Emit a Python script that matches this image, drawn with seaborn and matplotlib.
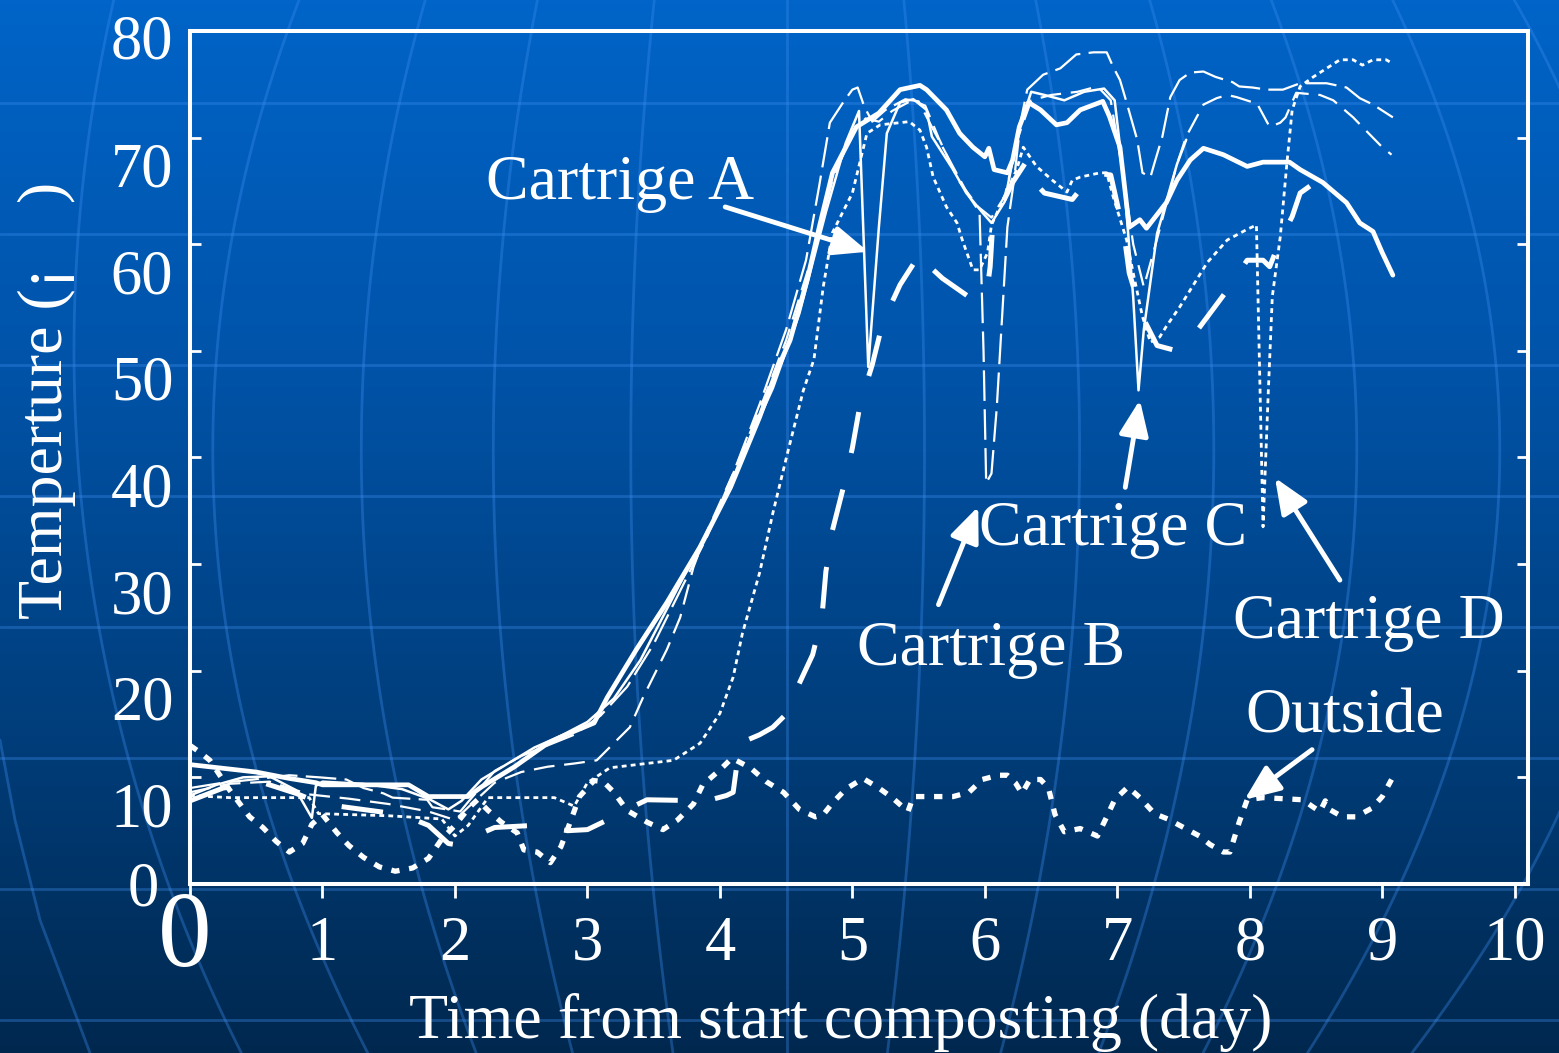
import numpy as np
import matplotlib
matplotlib.use("Agg")
import matplotlib.pyplot as plt
import matplotlib.transforms as mtransforms
from matplotlib.colors import LinearSegmentedColormap
import seaborn as sns

# ---- data (day, temperature) ----
# thin solid line (Cartrige A)
a_day = [0.0, 0.2, 0.4, 0.6, 0.8, 0.92, 0.95, 1.0, 1.3, 1.6, 1.8, 1.95, 2.05, 2.2, 2.4,
         2.6, 2.8, 3.0, 3.2, 3.4, 3.6, 3.8, 4.0, 4.2, 4.4, 4.6, 4.8, 4.95, 5.05, 5.12,
         5.2, 5.26, 5.36, 5.46, 5.56, 5.6, 5.76, 5.86, 5.98, 6.05, 6.15, 6.25, 6.35, 6.45, 6.6,
         6.75, 6.9, 6.98, 7.05, 7.12, 7.16, 7.2, 7.3, 7.45, 7.52]
a_temp = [8.3, 9.3, 10.0, 10.1, 8.8, 6.2, 9.2, 9.6, 9.4, 8.9, 8.0, 7.0, 7.8, 9.8, 11.3,
          12.8, 13.9, 15.2, 17.4, 21.0, 25.8, 30.6, 35.2, 41.0, 46.5, 53.5, 63.0, 69.5, 72.5, 48.5,
          61.6, 70.4, 73.3, 73.6, 72.6, 70.1, 67.0, 64.8, 63.0, 62.0, 64.0, 70.5, 74.3, 74.0, 73.5,
          74.3, 74.6, 73.5, 66.0, 55.0, 46.3, 52.0, 61.0, 67.5, 69.8]

# thin long dash (Cartrige B)
b_day = [0.0, 0.25, 0.48, 0.75, 0.98, 1.18, 1.31, 1.46, 1.53, 1.79, 1.83, 2.04, 2.1, 2.3, 2.5,
         2.7, 2.9, 3.1, 3.3, 3.5, 3.7, 3.9, 4.1, 4.3, 4.5, 4.65, 4.75, 4.83, 4.93, 5.0,
         5.04, 5.09, 5.15, 5.25, 5.4, 5.5, 5.6, 5.75, 5.88, 5.96, 5.99, 6.01, 6.05, 6.09, 6.17,
         6.22, 6.27, 6.32, 6.44, 6.57, 6.69, 6.82, 6.92, 6.97, 7.02, 7.07, 7.15, 7.19, 7.25, 7.28,
         7.34, 7.4, 7.47, 7.55, 7.65, 7.74, 7.87, 7.92, 8.02, 8.13, 8.25, 8.38, 8.58, 8.73, 8.83,
         8.93, 9.08]
b_temp = [9.0, 9.5, 9.8, 10.2, 10.0, 9.8, 9.0, 8.5, 8.1, 7.9, 7.2, 6.8, 7.7, 10.6, 12.0,
          13.0, 14.0, 15.8, 18.5, 22.5, 27.5, 32.5, 38.5, 45.0, 52.0, 58.5, 65.5, 71.4, 73.3, 74.5,
          74.7, 72.9, 71.5, 72.6, 73.6, 73.4, 71.0, 67.5, 64.5, 63.0, 50.0, 37.6, 38.5, 44.7, 61.6,
          66.0, 71.5, 74.5, 75.9, 76.5, 77.8, 78.0, 78.0, 76.6, 75.4, 73.3, 69.8, 66.7, 66.3, 67.6,
          70.1, 73.8, 75.4, 76.1, 76.2, 75.7, 75.2, 74.8, 74.7, 74.5, 74.5, 75.1, 75.1, 74.7, 73.7,
          73.1, 71.9]

# thin medium dash (Cartrige C)
c_day = [0.0, 0.3, 0.6, 0.9, 1.2, 1.5, 1.8, 2.0, 2.1, 2.3, 2.5, 2.7, 2.9, 3.07, 3.32,
         3.42, 3.6, 3.7, 3.8, 3.9, 4.1, 4.3, 4.5, 4.7, 4.85, 5.0, 5.1, 5.2, 5.3, 5.45,
         5.55, 5.65, 5.8, 5.95, 6.05, 6.15, 6.25, 6.35, 6.5, 6.7, 6.85, 6.95, 7.05, 7.12, 7.2,
         7.3, 7.45, 7.52, 7.65, 7.75, 7.83, 7.9, 8.0, 8.05, 8.15, 8.23, 8.27, 8.35, 8.53, 8.63,
         8.78, 8.85, 9.0, 9.07]
c_temp = [8.6, 9.4, 9.6, 8.4, 8.0, 7.5, 6.8, 6.0, 7.2, 9.5, 10.5, 11.0, 11.3, 11.6, 14.7,
          17.5, 22.0, 25.0, 29.7, 33.0, 38.5, 44.5, 51.0, 59.0, 66.0, 70.5, 71.8, 71.5, 72.5, 73.5,
          73.0, 70.0, 66.0, 63.5, 62.5, 64.5, 70.0, 73.5, 74.0, 74.3, 74.8, 73.5, 66.0, 60.0, 56.0,
          60.5, 67.5, 70.1, 73.1, 73.7, 74.0, 73.8, 73.4, 73.3, 71.0, 71.4, 71.9, 74.2, 74.0, 73.5,
          71.9, 71.0, 69.1, 68.4]

# thin dotted (Cartrige D)
d_day = [0.0, 0.3, 0.9, 0.97, 1.5, 1.9, 2.0, 2.1, 2.25, 2.75, 2.9, 3.0, 3.17, 3.65, 3.85,
         4.0, 4.1, 4.17, 4.3, 4.4, 4.51, 4.63, 4.71, 4.78, 4.85, 5.0, 5.11, 5.21, 5.43, 5.51,
         5.56, 5.61, 5.71, 5.79, 5.83, 5.91, 5.96, 6.02, 6.05, 6.09, 6.24, 6.29, 6.39, 6.51, 6.62,
         6.66, 6.72, 6.87, 6.92, 6.97, 7.07, 7.12, 7.19, 7.25, 7.32, 7.37, 7.47, 7.6, 7.68, 7.83,
         7.98, 8.05, 8.1, 8.14, 8.17, 8.23, 8.28, 8.32, 8.38, 8.48, 8.68, 8.78, 8.85, 8.93, 9.03,
         9.07]
d_temp = [8.3, 8.1, 8.1, 6.6, 6.4, 6.1, 4.5, 5.5, 8.1, 8.1, 7.3, 9.5, 10.9, 11.6, 13.2,
          16.0, 19.4, 23.5, 29.2, 34.8, 40.4, 46.3, 49.2, 56.0, 61.1, 64.8, 70.4, 71.2, 71.5, 70.7,
          69.1, 66.3, 63.5, 62.0, 60.4, 57.6, 57.6, 59.2, 61.8, 62.9, 67.0, 69.1, 67.3, 66.0, 64.9,
          66.0, 66.3, 66.7, 66.7, 64.4, 60.4, 57.3, 53.2, 50.8, 51.3, 52.3, 54.1, 56.7, 58.3, 60.4,
          61.4, 61.8, 33.5, 46.3, 55.1, 60.7, 67.6, 72.6, 74.8, 75.7, 77.3, 77.3, 76.8, 77.3, 77.3,
          77.0]

# thick solid
e_day = [0.0, 0.5, 0.75, 0.95, 1.0, 1.65, 1.8, 2.1, 2.2, 2.45, 2.7, 2.8, 3.05, 3.15, 3.37,
         3.6, 3.85, 4.08, 4.3, 4.43, 4.53, 4.66, 4.75, 4.85, 5.03, 5.2, 5.36, 5.51, 5.56, 5.71,
         5.81, 5.91, 6.0, 6.03, 6.07, 6.17, 6.21, 6.26, 6.33, 6.42, 6.54, 6.62, 6.72, 6.89, 6.94,
         7.02, 7.09, 7.17, 7.22, 7.37, 7.45, 7.55, 7.65, 7.8, 7.98, 8.1, 8.3, 8.38, 8.55, 8.73,
         8.83, 8.93, 9.0, 9.08]
e_temp = [11.2, 10.5, 9.9, 9.5, 9.3, 9.3, 8.2, 8.2, 9.1, 11.0, 13.2, 13.8, 15.1, 17.5, 22.0,
          26.4, 31.6, 37.2, 43.8, 48.2, 51.0, 56.7, 61.6, 66.7, 71.0, 72.3, 74.5, 74.9, 74.5, 72.6,
          70.4, 69.1, 68.2, 69.0, 67.0, 66.7, 67.9, 71.0, 73.3, 72.6, 71.2, 71.4, 72.6, 73.4, 72.0,
          69.1, 61.6, 62.3, 61.5, 63.9, 66.0, 67.9, 69.0, 68.4, 67.3, 67.7, 67.7, 67.0, 65.8, 63.9,
          62.0, 61.2, 59.2, 57.1]

# thick long dash
f_day = [0.0, 0.25, 0.55, 0.8, 1.0, 1.3, 1.6, 1.8, 1.95, 2.05, 2.15, 2.3, 2.6, 2.85, 3.0,
         3.15, 3.3, 3.45, 3.9, 4.05, 4.1, 4.15, 4.3, 4.4, 4.53, 4.55, 4.7, 4.77, 4.8, 4.85,
         4.93, 5.0, 5.06, 5.15, 5.23, 5.36, 5.52, 5.61, 5.68, 5.91, 6.02, 6.04, 6.06, 6.21, 6.32,
         6.36, 6.45, 6.66, 6.82, 6.95, 7.05, 7.09, 7.19, 7.3, 7.42, 7.49, 7.62, 7.83, 7.98, 8.1,
         8.15, 8.23, 8.32, 8.38, 8.47]
f_temp = [7.8, 9.0, 9.5, 8.5, 7.5, 7.0, 6.5, 5.5, 3.8, 3.6, 4.5, 5.3, 5.5, 5.0, 5.1,
          6.0, 7.0, 7.9, 7.8, 8.3, 8.6, 13.2, 14.0, 14.7, 16.3, 17.5, 21.5, 25.0, 29.3, 33.2,
          37.1, 40.9, 45.1, 48.7, 52.7, 56.2, 59.3, 57.6, 56.8, 54.8, 56.0, 57.9, 62.0, 65.8, 67.9,
          66.0, 64.8, 64.2, 66.7, 66.5, 61.0, 57.3, 53.2, 50.5, 50.1, 50.1, 52.2, 55.7, 58.5, 58.5,
          57.9, 60.4, 62.6, 64.8, 65.6]

# outside air (thick short dash)
out_day = [0.0, 0.08, 0.15, 0.3, 0.45, 0.55, 0.65, 0.75, 0.85, 0.92, 1.0, 1.11, 1.2, 1.31, 1.43,
           1.55, 1.68, 1.8, 1.9, 2.0, 2.11, 2.17, 2.25, 2.35, 2.47, 2.52, 2.62, 2.72, 2.8, 2.87,
           2.94, 3.05, 3.12, 3.2, 3.3, 3.45, 3.57, 3.68, 3.8, 3.87, 4.0, 4.09, 4.23, 4.35, 4.48,
           4.6, 4.72, 4.78, 4.85, 4.95, 5.08, 5.2, 5.3, 5.42, 5.46, 5.76, 5.88, 5.98, 6.1, 6.17,
           6.23, 6.28, 6.34, 6.42, 6.48, 6.53, 6.6, 6.72, 6.85, 6.92, 6.98, 7.08, 7.17, 7.28, 7.38,
           7.5, 7.62, 7.7, 7.8, 7.85, 7.92, 7.98, 8.1, 8.4, 8.48, 8.53, 8.57, 8.6, 8.7, 8.8,
           8.92, 9.0, 9.07]
out_temp = [13.0, 12.3, 11.6, 8.8, 6.3, 5.3, 4.0, 3.0, 3.8, 5.6, 6.5, 4.8, 3.6, 2.5, 1.6,
            1.2, 1.5, 2.4, 4.2, 5.5, 7.2, 7.9, 6.9, 5.8, 4.8, 3.2, 3.0, 2.0, 3.5, 5.8,
            8.2, 9.7, 9.6, 8.6, 6.9, 5.8, 5.1, 6.0, 7.5, 9.3, 10.7, 11.8, 10.9, 9.6, 8.6,
            7.0, 6.3, 6.5, 7.6, 8.9, 9.9, 9.0, 8.1, 6.8, 8.2, 8.2, 8.6, 9.8, 10.2, 10.2,
            9.5, 8.5, 9.8, 9.8, 9.0, 6.5, 4.9, 5.2, 4.5, 6.3, 7.9, 9.1, 8.1, 6.6, 6.1,
            5.3, 4.5, 3.7, 3.0, 3.0, 5.8, 7.9, 8.1, 7.9, 7.2, 6.8, 7.8, 7.0, 6.3, 6.3,
            7.1, 8.2, 9.8]

x_ticks = list(range(0, 11))
y_ticks = list(range(0, 81, 10))

# ---- style ----
sns.set_style("ticks")
plt.rcParams['font.family'] = ['Liberation Serif', 'DejaVu Serif']
plt.rcParams['lines.scale_dashes'] = False

W, H = 1559, 1053
fig = plt.figure(figsize=(W / 100, H / 100), dpi=100)

# powerpoint-like blue background with faint globe lines
bg = fig.add_axes([0, 0, 1, 1], zorder=-10)
cmap = LinearSegmentedColormap.from_list(
    'bg', [(0, '#0064C8'), (0.35, '#0053A8'), (0.7, '#003D7A'), (1, '#00284F')])
bg.imshow(np.linspace(0, 1, 256).reshape(-1, 1), extent=[0, W, H, 0], aspect='auto', cmap=cmap)
gl = dict(color='#3D8EF0', alpha=0.35, lw=2)
for yy in np.arange(-28, H, 131):
    bg.plot([0, W], [yy, yy], **gl)
yy = np.linspace(0, H, 120)
bulge = 1.1 - 0.1 * ((yy - 450) / 350) ** 2
for xb in [265, 400, 520, 645, 787, 912, 1053, 1175, 1305, 1435, 1565]:
    bg.plot(787 + (xb - 787) * bulge, yy, **gl)
t = np.linspace(2.674, 3.368, 100)
bg.plot(1634 + 1560 * np.cos(t), 350 + 1560 * np.sin(t), **gl)
bg.plot([0, 15, 40, 90], [740, 820, 920, 1053], **gl)
bg.set_xlim(0, W)
bg.set_ylim(H, 0)
bg.axis('off')

# ---- main axes ----
ax = fig.add_axes([190 / W, 1 - 884 / H, (1528 - 190) / W, (884 - 31) / H])
ax.set_facecolor('none')

series = [
    (a_day, a_temp, 1.8, '-'),
    (b_day, b_temp, 1.6, (0, (22, 6))),
    (c_day, c_temp, 1.6, (0, (15, 7))),
    (d_day, d_temp, 2.0, (0, (3.5, 3))),
    (e_day, e_temp, 3.4, '-'),
    (f_day, f_temp, 3.6, (0, (30, 27))),
    (out_day, out_temp, 3.8, (0, (6, 7))),
]
for xs, ys, lw, ls in series:
    sns.lineplot(x=xs, y=ys, ax=ax, color='white', lw=lw, linestyle=ls,
                 sort=False, estimator=None, legend=False)

ax.set_xlim(0, 10.1)
ax.set_ylim(0, 80)
ax.set_xticks(x_ticks, labels=[str(v) for v in x_ticks])
ax.set_yticks(y_ticks, labels=[str(v) for v in y_ticks])
for s in ax.spines.values():
    s.set_visible(True)
    s.set_color('white')
    s.set_linewidth(2.9)
ax.tick_params(axis='x', direction='out', length=10, width=2, color='white',
               labelcolor='white', labelsize=45, pad=13)
ax.tick_params(axis='y', direction='in', length=8, width=2, color='white',
               labelcolor='white', labelsize=45, pad=12, left=True, right=True)

# the original slide has its tick labels slightly off their ticks
down = mtransforms.ScaledTranslation(0, -0.27, fig.dpi_scale_trans)
for lab in ax.get_yticklabels():
    if lab.get_text() in ('0', '80'):
        continue
    lab.set_transform(lab.get_transform() + down)
ylabs = ax.get_yticklabels()
ylabs[0].set_transform(ylabs[0].get_transform() + mtransforms.ScaledTranslation(-0.14, 0, fig.dpi_scale_trans))
ylabs[-1].set_transform(ylabs[-1].get_transform() + mtransforms.ScaledTranslation(0, -0.06, fig.dpi_scale_trans))
xlabs = ax.get_xticklabels()
xlabs[0].set_fontsize(77)
xlabs[0].set_transform(xlabs[0].get_transform() + mtransforms.ScaledTranslation(-0.05, 0.25, fig.dpi_scale_trans))

ax.set_xlabel('Time from start composting (day)', color='white', fontsize=46)
ax.set_ylabel('Temperture (¡    )', color='white', fontsize=46)
ax.xaxis.set_label_coords(0.486, -0.128)
ax.yaxis.set_label_coords(-0.085, 0.567)

# ---- annotations ----
arw = dict(arrowstyle='-|>,head_length=0.6,head_width=0.25', color='white', lw=3.5,
           mutation_scale=36, shrinkA=0, shrinkB=0)
notes = [
    ('Cartrige A', (3.245, 64.2), (4.04, 63.5), (5.12, 59.3)),
    ('Cartrige B', (6.05, 20.5), (5.65, 26.2), (5.95, 35.4)),
    ('Cartrige C', (6.97, 31.8), (7.06, 37.2), (7.17, 45.4)),
    ('Cartrige D', (8.9, 23.1), (8.68, 28.5), (8.19, 38.1)),
    ('Outside', (8.72, 14.2), (8.47, 12.6), (7.96, 7.9)),
]
for txt, pos, tail, tip in notes:
    ax.text(pos[0], pos[1], txt, color='white', fontsize=46, ha='center', va='baseline', zorder=5)
    ax.annotate('', xy=tip, xytext=tail, arrowprops=arw, zorder=5)

fig.savefig('out.png', dpi=100)
